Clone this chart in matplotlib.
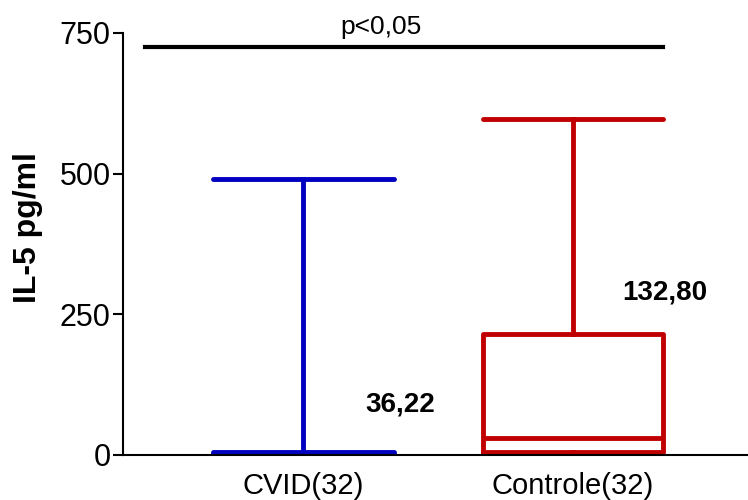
import matplotlib
matplotlib.use("Agg")
import matplotlib.pyplot as plt

plt.rcParams['font.family'] = ['Liberation Sans', 'DejaVu Sans']

# dados
grupos = ['CVID(32)', 'Controle(32)']
minimo = [0, 0]
q1 = [0, 5]
mediana = [0, 30]
q3 = [5, 215]
maximo = [490, 597]
medias = ['36,22', '132,80']
cores = ['#0000c0', '#c00000']
p_texto = 'p<0,05'
p_altura = 725

fig, ax = plt.subplots(figsize=(7.48, 5.0), dpi=100)
fig.subplots_adjust(left=0.1644, right=1.0, bottom=0.09, top=0.934)

for i, g in enumerate(grupos):
    stats = [{'med': mediana[i], 'q1': q1[i], 'q3': q3[i],
              'whislo': minimo[i], 'whishi': maximo[i], 'label': g}]
    c = cores[i]
    ax.bxp(stats, positions=[i + 1], widths=0.67, showfliers=False,
           boxprops=dict(color=c, linewidth=3.5),
           medianprops=dict(color=c, linewidth=3.5),
           whiskerprops=dict(color=c, linewidth=3.5),
           capprops=dict(color=c, linewidth=3.5, solid_capstyle='round'),
           capwidths=0.67)

# valores das medias
ax.text(1.36, 89, medias[0], fontsize=20, fontweight='bold', ha='center', va='center')
ax.text(2.34, 288, medias[1], fontsize=20, fontweight='bold', ha='center', va='center')

# linha de significancia
ax.plot([0.415, 2.333], [p_altura, p_altura], color='black', lw=3, clip_on=False)
ax.text(1.29, p_altura + 15, p_texto, fontsize=19, ha='center', va='bottom')

ax.set_xlim(0.333, 2.648)
ax.set_ylim(0, 750)
ax.set_yticks([0, 250, 500, 750])
ax.set_xticks([1, 2])
ax.set_xticklabels(grupos, fontsize=21)
ax.tick_params(axis='y', labelsize=22, length=7, width=1.5, pad=2)
ax.tick_params(axis='x', length=0, pad=12)
ax.set_ylabel('IL-5 pg/ml', fontsize=23, fontweight='bold')
ax.yaxis.set_label_coords(-0.128, 0.538)

ax.spines['top'].set_visible(False)
ax.spines['right'].set_visible(False)
ax.spines['left'].set_linewidth(1.5)
ax.spines['bottom'].set_linewidth(1.5)

fig.savefig('out.png', dpi=100)
